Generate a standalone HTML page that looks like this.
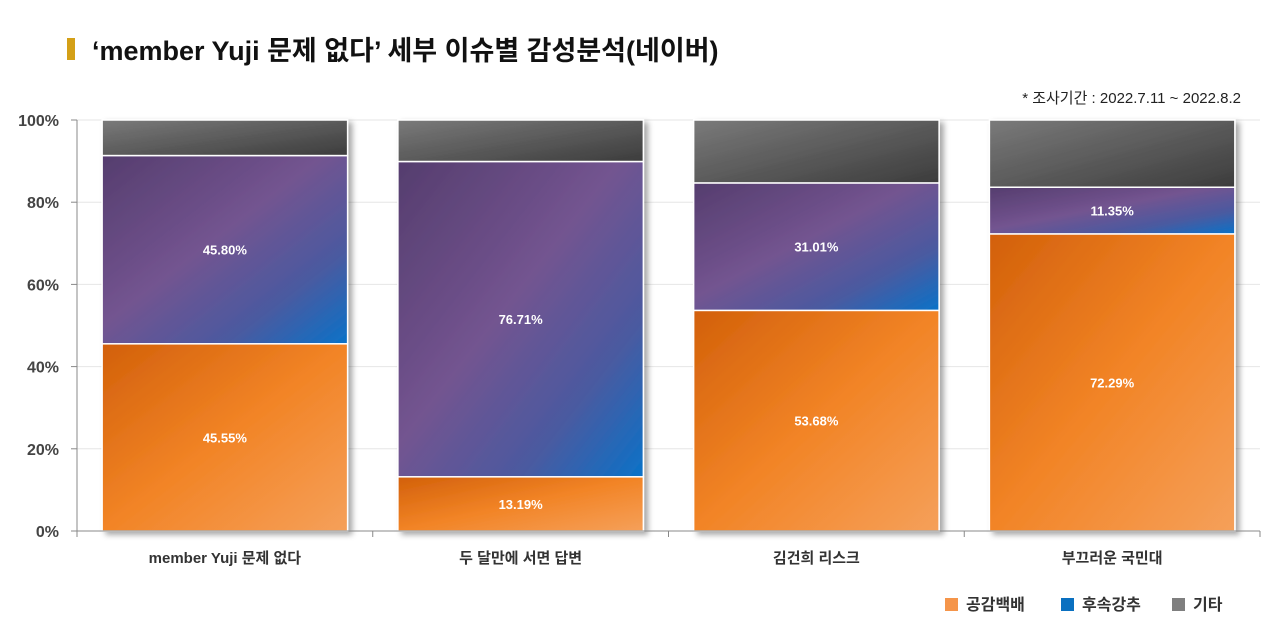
<!DOCTYPE html>
<html><head><meta charset="utf-8">
<style>
body{margin:0;background:#fff;width:1280px;height:638px;overflow:hidden;font-family:"Liberation Sans","Noto Sans CJK KR",sans-serif;}
svg text{font-family:"Liberation Sans","Noto Sans CJK KR",sans-serif;}
</style></head>
<body>
<svg id="chart" width="1280" height="638">
<defs>
<linearGradient id="gO" x1="0" y1="0" x2="1" y2="1"><stop offset="0" stop-color="#d2600a"/><stop offset="0.5" stop-color="#f28426"/><stop offset="1" stop-color="#f5a05a"/></linearGradient>
<linearGradient id="gP" x1="0" y1="0" x2="1" y2="1"><stop offset="0" stop-color="#553d6e"/><stop offset="0.45" stop-color="#735490"/><stop offset="0.75" stop-color="#4a5aa0"/><stop offset="1" stop-color="#0a72c8"/></linearGradient>
<linearGradient id="gG" x1="0" y1="0" x2="1" y2="1"><stop offset="0" stop-color="#7a7a7a"/><stop offset="1" stop-color="#3c3c3c"/></linearGradient>
<filter id="sh" x="-10%" y="-10%" width="130%" height="130%"><feDropShadow dx="4" dy="3" stdDeviation="3" flood-color="#000" flood-opacity="0.35"/></filter>
</defs>
<rect x="67" y="38" width="8" height="22" fill="#d4a017"/>
<text x="92" y="60" font-size="27" font-weight="bold" fill="#111">‘member Yuji 문제 없다’ 세부 이슈별 감성분석(네이버)</text>
<text x="1241" y="103" font-size="15" fill="#222" text-anchor="end">* 조사기간 : 2022.7.11 ~ 2022.8.2</text>
<g id="grid"></g><g id="bars"></g><g id="axes"></g>
<g>
<rect x="945" y="598" width="13" height="13" fill="#f5954a"/>
<text x="966" y="610" font-size="16" font-weight="bold" fill="#333">공감백배</text>
<rect x="1061" y="598" width="13" height="13" fill="#0a70c0"/>
<text x="1082" y="610" font-size="16" font-weight="bold" fill="#333">후속강추</text>
<rect x="1172" y="598" width="13" height="13" fill="#7f7f7f"/>
<text x="1193" y="610" font-size="16" font-weight="bold" fill="#333">기타</text>
</g>
</svg>
<script>
const categories=["member Yuji 문제 없다","두 달만에 서면 답변","김건희 리스크","부끄러운 국민대"];
const empathy=[45.55,13.19,53.68,72.29];
const followup=[45.80,76.71,31.01,11.35];
const yTicks=[0,20,40,60,80,100];
const NS="http://www.w3.org/2000/svg";
const X0=77,X1=1260,Y0=531,Y1=120;
const y=v=>Y0-(v/100)*(Y0-Y1);
const bandW=(X1-X0)/categories.length;
const barW=bandW*0.83;
const x=i=>X0+i*bandW+(bandW-barW)/2;
function mk(t,a,p){const e=document.createElementNS(NS,t);for(const k in a)e.setAttribute(k,a[k]);p.appendChild(e);return e;}
const grid=document.getElementById('grid'),bars=document.getElementById('bars'),axes=document.getElementById('axes');
yTicks.forEach(t=>{
 const l=mk('line',{x1:X0,x2:X1,y1:y(t),y2:y(t),stroke:'#e6e6e6','stroke-width':1},grid);
 
 
 const tk=mk('line',{x1:X0-6,x2:X0,y1:y(t),y2:y(t),stroke:'#888'},axes);
 
 
 const tx=mk('text',{x:X0-18,y:y(t)+6,'font-size':16,'font-weight':'bold',fill:'#444','text-anchor':'end'},axes);
 tx.textContent=t+'%';
 
 
});
const ya=mk('line',{x1:X0,x2:X0,y1:Y1,y2:Y0,stroke:'#888'},axes);


const xa=mk('line',{x1:X0,x2:X1,y1:Y0,y2:Y0,stroke:'#888'},axes);


for(let i=0;i<=categories.length;i++){
 const t=mk('line',{x1:X0+i*bandW,x2:X0+i*bandW,y1:Y0,y2:Y0+6,stroke:'#888'},axes);
 
 
}
categories.forEach((c,i)=>{
 const g=mk('g',{filter:'url(#sh)'},bars);
 
 
 const e=empathy[i],f=followup[i];
 const segs=[[0,e,'url(#gO)','empathy'],[e,e+f,'url(#gP)','followup'],[e+f,100,'url(#gG)','other']];
 segs.forEach(s=>{
  const r=mk('rect',{x:x(i),y:y(s[1]),width:barW,height:y(s[0])-y(s[1]),fill:s[2],stroke:'#fff','stroke-width':1.5},g);
  
  
 });
 [[0,e],[e,e+f]].forEach((s,k)=>{
  const t=mk('text',{x:x(i)+barW/2,y:(y(s[0])+y(s[1]))/2+5,'font-size':13,'font-weight':'bold',fill:'#fff','text-anchor':'middle'},bars);
  t.textContent=(k?f:e).toFixed(2)+'%';
  
  
 });
 const cl=mk('text',{x:X0+i*bandW+bandW/2,y:Y0+32,'font-size':15,'font-weight':'bold',fill:'#333','text-anchor':'middle'},axes);
 cl.textContent=c;
 
 
});
</script>
</body></html>
